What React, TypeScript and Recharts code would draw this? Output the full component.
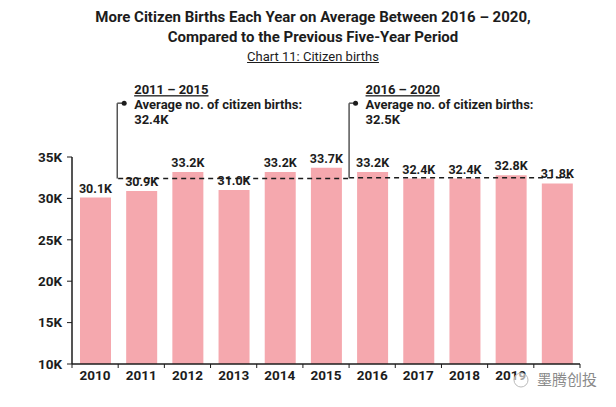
import { BarChart, Bar, XAxis, YAxis, LabelList, ReferenceLine, ReferenceDot } from 'recharts';

const years = ['2010', '2011', '2012', '2013', '2014', '2015', '2016', '2017', '2018', '2019', '2020'];
const births = [30100, 30900, 33200, 31000, 33200, 33700, 33200, 32400, 32400, 32800, 31800];
const yTicks = [10000, 15000, 20000, 25000, 30000, 35000];

// period averages, drawn as dashed segments over the bar bands
const avg2011to2015 = 32400;
const avg2016to2020 = 32500;
const bracketTop = 41500;

// slot = centre of each year's band on a 0..11 helper axis
const data = years.map((year, i) => ({ year, births: births[i], slot: i + 0.5 }));

const ink = '#1c1c1c';
const font = 'Roboto, "Noto Sans", sans-serif';

const fmtK = (v: number) => `${(v / 1000).toFixed(1)}K`;

// year label plus tick marks on the band edges
function YearTick(props: any) {
  const { x, y, payload, index, visibleTicksCount } = props;
  const half = payload?.offset || 23.09;
  const last = index === (visibleTicksCount ?? years.length) - 1;
  return (
    <g>
      <line x1={x - half} y1={y} x2={x - half} y2={y + 4} stroke={ink} strokeWidth={1} />
      {last && <line x1={x + half} y1={y} x2={x + half} y2={y + 4} stroke={ink} strokeWidth={1} />}
      <text x={x} y={y + 6} dy="0.71em" textAnchor="middle" fill={ink} fontSize={13.5} fontWeight={700} fontFamily={font}>
        {payload.value}
      </text>
    </g>
  );
}

function NoteLabel(props: any) {
  const { viewBox, period, avg } = props;
  const x = viewBox.x + viewBox.width / 2 + 10;
  const y = viewBox.y + viewBox.height / 2;
  return (
    <g fontFamily={font} fontWeight={700} fontSize={13} fill={ink}>
      <text x={x} y={y - 9} style={{ textDecoration: 'underline' }}>{period}</text>
      <text x={x} y={y + 6}>Average no. of citizen births:</text>
      <text x={x} y={y + 21}>{avg}</text>
    </g>
  );
}

export default function App() {
  return (
    <div style={{ position: 'absolute', left: 0, top: 0, width: 616, height: 407, background: '#fff', fontFamily: font }}>
      <div style={{ position: 'absolute', left: 5, top: 7, width: 616, textAlign: 'center', color: ink }}>
        <div style={{ fontSize: 15, fontWeight: 700, lineHeight: '20px' }}>
          More Citizen Births Each Year on Average Between 2016 – 2020,
          <br />
          Compared to the Previous Five-Year Period
        </div>
        <div style={{ fontSize: 13, lineHeight: '20px', textDecoration: 'underline' }}>Chart 11: Citizen births</div>
      </div>

      <BarChart
        width={616}
        height={407}
        data={data}
        margin={{ top: 157, right: 36, bottom: 13, left: 0 }}
        style={{ position: 'absolute', left: 0, top: 0 }}
      >
        <XAxis
          dataKey="year"
          tickLine={false}
          axisLine={{ stroke: ink, strokeWidth: 1.5 }}
          tickSize={0}
          tickMargin={0}
          height={30}
          interval={0}
          tick={<YearTick />}
        />
        <XAxis xAxisId="num" dataKey="slot" type="number" domain={[0, 11]} allowDataOverflow hide />
        <YAxis
          domain={[10000, 35000]}
          ticks={yTicks}
          width={72}
          tickSize={5}
          tickMargin={5}
          tickFormatter={(v: number) => `${v / 1000}K`}
          axisLine={{ stroke: ink, strokeWidth: 1.5 }}
          tickLine={{ stroke: ink }}
          tick={{ fill: ink, fontSize: 13.5, fontWeight: 700, fontFamily: font }}
        />
        <Bar dataKey="births" fill="#f5a8ae" barSize={31} isAnimationActive={false}>
          <LabelList
            dataKey="births"
            position="top"
            offset={5}
            formatter={(v: any) => fmtK(Number(v))}
            style={{ fill: ink, fontSize: 12.5, fontWeight: 700, fontFamily: font }}
          />
        </Bar>

        <ReferenceLine
          xAxisId="num"
          ifOverflow="visible"
          segment={[{ x: 1, y: avg2011to2015 }, { x: 6, y: avg2011to2015 }]}
          stroke={ink}
          strokeWidth={1.5}
          strokeDasharray="5 4"
        />
        <ReferenceLine
          xAxisId="num"
          ifOverflow="visible"
          segment={[{ x: 6, y: avg2016to2020 }, { x: 10.85, y: avg2016to2020 }]}
          stroke={ink}
          strokeWidth={1.5}
          strokeDasharray="5 4"
        />

        <ReferenceLine
          xAxisId="num"
          ifOverflow="visible"
          segment={[{ x: 0.98, y: avg2011to2015 }, { x: 0.98, y: bracketTop }]}
          stroke="#555"
          strokeWidth={1.5}
        />
        <ReferenceLine
          xAxisId="num"
          ifOverflow="visible"
          segment={[{ x: 0.98, y: bracketTop }, { x: 1.13, y: bracketTop }]}
          stroke="#555"
          strokeWidth={1.5}
        />
        <ReferenceDot
          xAxisId="num"
          ifOverflow="visible"
          x={1.13}
          y={bracketTop}
          r={2.5}
          fill={ink}
          stroke="none"
          label={<NoteLabel period="2011 – 2015" avg="32.4K" />}
        />

        <ReferenceLine
          xAxisId="num"
          ifOverflow="visible"
          segment={[{ x: 6, y: avg2016to2020 }, { x: 6, y: bracketTop }]}
          stroke="#555"
          strokeWidth={1.5}
        />
        <ReferenceLine
          xAxisId="num"
          ifOverflow="visible"
          segment={[{ x: 6, y: bracketTop }, { x: 6.14, y: bracketTop }]}
          stroke="#555"
          strokeWidth={1.5}
        />
        <ReferenceDot
          xAxisId="num"
          ifOverflow="visible"
          x={6.14}
          y={bracketTop}
          r={2.5}
          fill={ink}
          stroke="none"
          label={<NoteLabel period="2016 – 2020" avg="32.5K" />}
        />
      </BarChart>

      <svg width={20} height={20} style={{ position: 'absolute', left: 511, top: 369 }}>
        <circle cx={10} cy={11} r={7} fill="rgba(255,255,255,0.6)" stroke="#bbb" strokeWidth={1} />
      </svg>
      <div
        style={{
          position: 'absolute',
          left: 535,
          top: 369,
          padding: '0 2px',
          background: '#fff',
          color: '#8a8a8a',
          fontSize: 15,
          lineHeight: '20px',
          fontFamily: '"Noto Sans CJK SC", sans-serif',
        }}
      >
        墨腾创投
      </div>
    </div>
  );
}
